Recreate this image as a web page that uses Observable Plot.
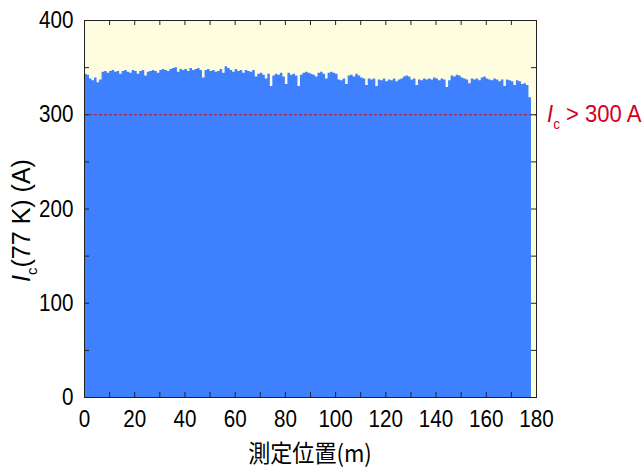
<!DOCTYPE html>
<html><head><meta charset="utf-8">
<script src="https://cdn.jsdelivr.net/npm/d3@7"></script>
<script src="https://cdn.jsdelivr.net/npm/@observablehq/plot@0.6"></script>
<style>
body{margin:0;background:#fff;}
#chart svg{display:block;}
</style></head><body><div id="chart"></div>
<script>
// Critical current Ic(77 K) in A, sampled every 1 m along the tape (0..178 m)
const icValues = [
  343, 342, 338, 336, 339, 334, 337,
  345, 346, 344, 346, 347, 345, 346, 343, 346, 347, 345,
  344, 347, 346, 343, 346, 347, 341, 345, 346, 347, 346, 344, 347,
  348, 347, 346, 348, 349, 350, 345, 348, 347, 348, 346, 349, 347,
  348, 349, 347, 339, 347, 348, 346, 347, 345, 346, 348, 344,
  351, 349, 347, 345, 348, 346, 347, 344, 347, 346, 345, 347,
  340, 343, 344, 342, 338, 343, 330, 341, 343, 342, 344, 340, 332, 344, 342, 343, 341, 330, 342, 344, 345, 344, 343, 342, 340,
  344, 345, 343, 338, 344, 345, 344, 343,
  337, 336, 338, 332,
  341, 342, 340, 343, 341, 339, 338, 331,
  338, 337, 338, 330,
  337, 336, 338, 335, 337, 336, 338, 335, 337, 338,
  340, 341, 340,
  337, 338, 331, 337, 336, 338, 337, 338,
  337, 339, 338, 336, 338, 337, 329, 336,
  341, 340, 342, 341, 339,
  338, 337, 333, 338, 337, 338, 336,
  339, 340, 338,
  337, 336, 338, 337, 335, 337, 330,
  337, 336, 335, 331, 336, 335,
  332, 333, 331, 318, 318
];
const xTickLabels = [0, 20, 40, 60, 80, 100, 120, 140, 160, 180];
const xTickMarks = [0, 10, 20, 30, 40, 50, 60, 70, 80, 90, 100, 110, 120, 130, 140, 150, 160, 170, 180];
const yTickLabels = [0, 100, 200, 300, 400];
const yTickMarks = [0, 50, 100, 150, 200, 250, 300, 350, 400];
const threshold = [300];
const xTitle = "測定位置(m)";
const thresholdText = ["I", "c", " > 300 A"];
const yTitle = ["I", "c", "(77 K) (A)"];

const W = 642, H = 470, mL = 84, mR = 106, mT = 20, mB = 73;
const pw = W - mL - mR, ph = H - mT - mB;
const FONT = "'Liberation Sans', Arial, sans-serif";
const NARROW = 0.86;

const plot = Plot.plot({
  width: W, height: H,
  marginLeft: mL, marginRight: mR, marginTop: mT, marginBottom: mB,
  style: {fontFamily: FONT, fontSize: "24px", background: "#fff", color: "#000", overflow: "visible"},
  x: {domain: [0, 180]},
  y: {domain: [0, 400]},
  marks: [
    Plot.frame({fill: "#FFFDE0", stroke: null}),
    Plot.areaY(icValues, {x: (d, i) => i, y: d => d, curve: "step-after", fill: "#3F80FF"}),
    Plot.ruleY(threshold, {stroke: "#C0102A", strokeDasharray: "3,2", strokeWidth: 1}),
    Plot.tickX(xTickMarks, {x: d => d, insetTop: ph - 5, stroke: "#222"}),
    Plot.tickX(xTickMarks, {x: d => d, insetBottom: ph - 5, stroke: "#222"}),
    Plot.tickY(yTickMarks, {y: d => d, insetRight: pw - 5, stroke: "#222"}),
    Plot.tickY(yTickMarks, {y: d => d, insetLeft: pw - 5, stroke: "#222"}),
    Plot.axisX({ticks: xTickLabels, tickSize: 0, tickPadding: 12, label: null}),
    Plot.axisY({ticks: yTickLabels, tickSize: 0, tickPadding: 11, label: null}),
    Plot.frame({stroke: "#222"})
  ]
});
document.getElementById("chart").appendChild(plot);

const svg = d3.select(plot);
// narrow the tick labels like the reference's condensed face
svg.selectAll('g[aria-label="x-axis tick label"] text, g[aria-label="y-axis tick label"] text')
  .each(function () {
    const t = this.getAttribute("transform") || "";
    this.setAttribute("transform", `${t} scale(${NARROW},1)`);
  });

const ys = plot.scale("y");
const yPix = ys.apply(threshold[0]);

// threshold label
const tl = svg.append("text")
  .attr("transform", `translate(${mL + pw + 11}, ${yPix + 8}) scale(0.9,1)`)
  .attr("text-anchor", "start")
  .attr("fill", "#D0001C").attr("font-size", 24.5).attr("font-family", FONT);
tl.append("tspan").attr("font-style", "italic").text(thresholdText[0]);
tl.append("tspan").attr("font-size", 15).attr("dy", 7).text(thresholdText[1]);
tl.append("tspan").attr("dy", -7).text(thresholdText[2]);

// y title
const yt = svg.append("text")
  .attr("transform", `translate(30, ${mT + ph / 2 + 12}) rotate(-90)`)
  .attr("text-anchor", "middle")
  .attr("fill", "#000").attr("font-size", 25).attr("font-family", FONT);
yt.append("tspan").attr("font-style", "italic").text(yTitle[0]);
yt.append("tspan").attr("font-size", 15).attr("dy", 7).text(yTitle[1]);
yt.append("tspan").attr("dy", -7).text(yTitle[2]);

// x title
svg.append("text")
  .attr("transform", `translate(${mL + pw / 2}, ${H - 8}) scale(0.92,1)`)
  .attr("text-anchor", "middle")
  .attr("fill", "#000").attr("font-size", 24)
  .attr("font-family", "'Noto Sans CJK JP', 'Noto Sans CJK SC', sans-serif")
  .text(xTitle);
</script></body></html>
